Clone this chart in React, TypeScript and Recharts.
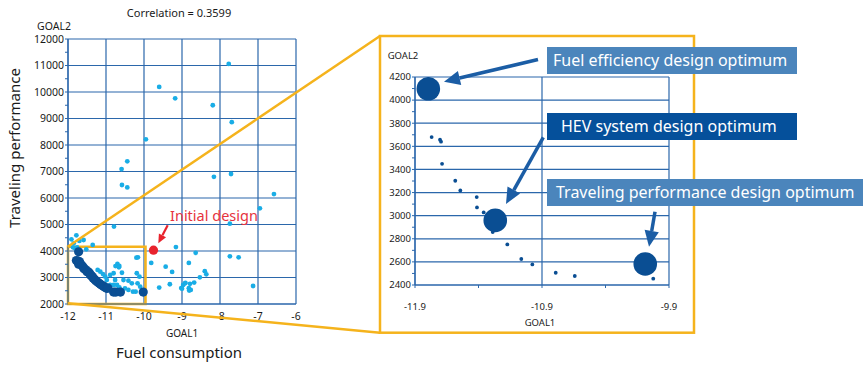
import React from "react";
import { ScatterChart, Scatter, XAxis, YAxis, CartesianGrid, ReferenceArea } from "recharts";

const FONT = '"Noto Sans", "Open Sans", sans-serif';
const GRID = "#2b67ab";
const ORANGE = "#f5b31c";
const LIGHT = "#19ade6";
const DARK = "#0a4e93";
const RED = "#e8232d";

// left: whole design space
const leftXTicks = [-12, -11, -10, -9, -8, -7, -6];
const leftYTicks = [2000, 2500, 3000, 3500, 4000, 4500, 5000, 5500, 6000, 6500, 7000, 7500, 8000, 8500, 9000, 9500, 10000, 10500, 11000, 11500, 12000];
const leftYGrid = [2000, 3000, 4000, 5000, 6000, 7000, 8000, 9000, 10000, 11000, 12000];

const samplePoints = [
  { x: -10.59, y: 7090 }, { x: -10.44, y: 7385 }, { x: -9.95, y: 8215 }, { x: -9.6, y: 10190 },
  { x: -9.18, y: 9760 }, { x: -8.19, y: 9500 }, { x: -7.77, y: 11060 }, { x: -7.69, y: 8860 },
  { x: -10.58, y: 6490 }, { x: -10.44, y: 6400 }, { x: -10.79, y: 4920 }, { x: -8.16, y: 6800 },
  { x: -7.71, y: 6905 }, { x: -6.58, y: 6150 }, { x: -6.95, y: 5610 }, { x: -7.74, y: 5030 },
  { x: -7.74, y: 3800 }, { x: -7.51, y: 3760 }, { x: -7.13, y: 2680 }, { x: -9.16, y: 4150 },
  { x: -8.64, y: 3930 }, { x: -8.82, y: 3550 }, { x: -9.43, y: 3410 }, { x: -9.26, y: 3210 },
  { x: -9.81, y: 3550 }, { x: -9.32, y: 2745 }, { x: -9.6, y: 2620 },
  { x: -9.02, y: 2600 }, { x: -8.97, y: 2720 }, { x: -8.91, y: 2800 }, { x: -8.82, y: 2595 },
  { x: -8.79, y: 2760 }, { x: -8.81, y: 2510 }, { x: -8.68, y: 2810 }, { x: -8.53, y: 3005 },
  { x: -8.4, y: 3240 }, { x: -8.36, y: 3120 }, { x: -8.77, y: 2530 }, { x: -8.92, y: 2780 }, { x: -9.0, y: 2580 },
  { x: -11.78, y: 4590 }, { x: -11.59, y: 4415 }, { x: -11.7, y: 4380 }, { x: -11.35, y: 4230 },
  { x: -11.91, y: 4440 }, { x: -11.85, y: 4290 }, { x: -11.87, y: 4140 }, { x: -11.82, y: 4100 },
  { x: -11.76, y: 4140 }, { x: -11.52, y: 4065 },
  { x: -10.16, y: 3760 }, { x: -10.7, y: 3510 }, { x: -10.65, y: 3435 }, { x: -10.58, y: 3180 },
  { x: -10.8, y: 3160 }, { x: -10.89, y: 3095 }, { x: -11.22, y: 3285 }, { x: -11.15, y: 3220 },
  { x: -11.08, y: 3130 }, { x: -10.19, y: 3160 }, { x: -10.12, y: 3030 },
  { x: -10.54, y: 2905 }, { x: -10.41, y: 2880 }, { x: -10.32, y: 2780 }, { x: -10.76, y: 2905 },
  { x: -10.71, y: 2720 }, { x: -10.65, y: 2630 }, { x: -10.8, y: 2720 }, { x: -10.5, y: 2590 },
  { x: -10.41, y: 2530 }, { x: -10.29, y: 2465 }, { x: -10.22, y: 2465 }, { x: -10.17, y: 2780 },
  { x: -10.1, y: 2655 }, { x: -11.02, y: 3030 }, { x: -10.98, y: 2905 }, { x: -10.89, y: 2720 },
  { x: -10.75, y: 3430 }, { x: -10.66, y: 3385 }, { x: -10.2, y: 3750 },
];

const paretoPoints = [
  { x: -11.72, y: 3970 }, { x: -11.78, y: 3640 }, { x: -11.74, y: 3620 }, { x: -11.7, y: 3600 },
  { x: -11.68, y: 3540 }, { x: -11.72, y: 3500 }, { x: -11.64, y: 3460 }, { x: -11.6, y: 3400 },
  { x: -11.58, y: 3330 }, { x: -11.53, y: 3290 }, { x: -11.5, y: 3220 }, { x: -11.45, y: 3200 },
  { x: -11.42, y: 3130 }, { x: -11.4, y: 3080 }, { x: -11.36, y: 3040 }, { x: -11.34, y: 2980 },
  { x: -11.3, y: 2930 }, { x: -11.27, y: 2880 }, { x: -11.22, y: 2830 }, { x: -11.18, y: 2780 },
  { x: -11.14, y: 2740 }, { x: -11.1, y: 2700 }, { x: -11.06, y: 2660 }, { x: -11.02, y: 2620 },
  { x: -10.98, y: 2590 }, { x: -10.95, y: 2600 }, { x: -10.8, y: 2450 }, { x: -10.74, y: 2450 },
  { x: -10.62, y: 2450 }, { x: -10.02, y: 2450 },
];

const initialDesign = [{ x: -9.75, y: 4030 }];
const zoomRange = { x1: -12, x2: -9.96, y1: 2000, y2: 4160 };

// right: zoom on the pareto front
const rightXTicks = [-11.9, -11.4, -10.9, -10.4, -9.9];
const rightXGrid = [-11.9, -10.9, -9.9];
const rightYTicks = [2400, 2500, 2600, 2700, 2800, 2900, 3000, 3100, 3200, 3300, 3400, 3500, 3600, 3700, 3800, 3900, 4000, 4100, 4200];
const rightYGrid = [2400, 2600, 2800, 3000, 3200, 3400, 3600, 3800, 4000, 4200];

const frontPoints = [
  { x: -11.769, y: 3680 }, { x: -11.703, y: 3657 }, { x: -11.695, y: 3640 }, { x: -11.687, y: 3449 },
  { x: -11.583, y: 3302 }, { x: -11.543, y: 3218 }, { x: -11.414, y: 3161 }, { x: -11.412, y: 3071 },
  { x: -11.359, y: 3028 }, { x: -11.288, y: 2858 }, { x: -11.173, y: 2751 }, { x: -11.063, y: 2625 },
  { x: -10.976, y: 2578 }, { x: -10.792, y: 2506 }, { x: -10.642, y: 2478 }, { x: -10.024, y: 2455 },
];
const optimumPoints = [
  { x: -11.795, y: 4098 }, { x: -11.268, y: 2959 }, { x: -10.087, y: 2582 },
];

const dot = (r: number, fill: string) => (p: any) => <circle cx={p.cx} cy={p.cy} r={r} fill={fill} />;

function Text({ x, y, size, children, color = "#1a1a1a", rotate = 0, anchor = "center" }: any) {
  return (
    <div
      style={{
        position: "absolute",
        left: x,
        top: y,
        transform: `translate(${anchor === "center" ? "-50%" : "0"}, -50%) rotate(${rotate}deg)`,
        fontSize: size,
        color,
        whiteSpace: "nowrap",
        lineHeight: 1,
      }}
    >
      {children}
    </div>
  );
}

function Arrow({ x1, y1, x2, y2, color, w, head }: any) {
  const a = Math.atan2(y2 - y1, x2 - x1);
  const bx = x2 - head * Math.cos(a);
  const by = y2 - head * Math.sin(a);
  const hw = head * 0.45;
  const px = -Math.sin(a) * hw;
  const py = Math.cos(a) * hw;
  return (
    <g>
      <line x1={x1} y1={y1} x2={bx} y2={by} stroke={color} strokeWidth={w} />
      <polygon points={`${x2},${y2} ${bx + px},${by + py} ${bx - px},${by - py}`} fill={color} />
    </g>
  );
}

function Tag({ x, y, w, bg, pad, children }: any) {
  return (
    <div
      style={{
        position: "absolute",
        left: x,
        top: y,
        width: w,
        height: 27,
        background: bg,
        color: "#fff",
        fontSize: 16,
        lineHeight: "27px",
        paddingLeft: pad,
        boxSizing: "border-box",
        whiteSpace: "nowrap",
      }}
    >
      {children}
    </div>
  );
}

const tickStyle = { fontSize: 10.5, fill: "#1a1a1a", fontFamily: FONT };
const smallTick = { fontSize: 9.5, fill: "#1a1a1a", fontFamily: FONT };

export default function App() {
  return (
    <div style={{ position: "absolute", left: 0, top: 0, width: 866, height: 365, background: "#fff", fontFamily: FONT, overflow: "hidden" }}>
      <div style={{ position: "absolute", left: 0, top: 0 }}>
        <ScatterChart width={310} height={365} margin={{ top: 39, right: 14, left: 0, bottom: 41 }}>
          <CartesianGrid stroke={GRID} strokeWidth={1.2} horizontalValues={leftYGrid} verticalValues={leftXTicks} />
          <XAxis
            type="number"
            dataKey="x"
            domain={[-12, -6]}
            ticks={leftXTicks}
            interval={0}
            height={20}
            tickLine={false}
            tickSize={0}
            tickMargin={9}
            axisLine={{ stroke: GRID, strokeWidth: 1.2 }}
            tick={tickStyle}
          />
          <YAxis
            type="number"
            dataKey="y"
            domain={[2000, 12000]}
            ticks={leftYTicks}
            interval={0}
            width={68}
            tickSize={3}
            tickMargin={1}
            tickLine={{ stroke: GRID }}
            axisLine={{ stroke: GRID, strokeWidth: 1.2 }}
            tick={tickStyle}
            tickFormatter={(v: number) => (v % 1000 === 0 ? String(v) : "")}
          />
          <Scatter data={samplePoints} shape={dot(2.4, LIGHT)} isAnimationActive={false} />
          <Scatter data={paretoPoints} shape={dot(4.6, DARK)} isAnimationActive={false} />
          <Scatter data={initialDesign} shape={dot(4.6, RED)} isAnimationActive={false} />
          <ReferenceArea
            x1={zoomRange.x1}
            x2={zoomRange.x2}
            y1={zoomRange.y1}
            y2={zoomRange.y2}
            fill="none"
            fillOpacity={0}
            stroke={ORANGE}
            strokeWidth={2.5}
            ifOverflow="visible"
          />
        </ScatterChart>
      </div>

      <div style={{ position: "absolute", left: 380, top: 36 }}>
        <ScatterChart width={314} height={297} margin={{ top: 41, right: 25, left: 0, bottom: 28 }}>
          <CartesianGrid stroke={GRID} strokeWidth={1.2} horizontalValues={rightYGrid} verticalValues={rightXGrid} />
          <XAxis
            type="number"
            dataKey="x"
            domain={[-11.9, -9.9]}
            allowDataOverflow
            ticks={rightXTicks}
            interval={0}
            height={20}
            tickSize={3}
            tickMargin={15}
            tickLine={{ stroke: GRID }}
            axisLine={{ stroke: GRID, strokeWidth: 1.2 }}
            tick={smallTick}
            tickFormatter={(v: number) => (rightXGrid.includes(v) ? v.toFixed(1) : "")}
          />
          <YAxis
            type="number"
            dataKey="y"
            domain={[2400, 4200]}
            allowDataOverflow
            ticks={rightYTicks}
            interval={0}
            width={35}
            tickSize={3}
            tickMargin={1}
            tickLine={{ stroke: GRID }}
            axisLine={{ stroke: GRID, strokeWidth: 1.2 }}
            tick={smallTick}
            tickFormatter={(v: number) => (v % 200 === 0 ? String(v) : "")}
          />
          <Scatter data={frontPoints} shape={dot(1.9, DARK)} isAnimationActive={false} />
          <Scatter data={optimumPoints} shape={dot(11.8, DARK)} isAnimationActive={false} />
        </ScatterChart>
      </div>

      <svg width={866} height={365} style={{ position: "absolute", left: 0, top: 0, pointerEvents: "none" }}>
        <line x1={67.7} y1={246.7} x2={380} y2={36} stroke={ORANGE} strokeWidth={2.5} />
        <line x1={67.7} y1={303.3} x2={380} y2={332.7} stroke={ORANGE} strokeWidth={2.5} />
        <rect x={380} y={36} width={314} height={296.7} fill="none" stroke={ORANGE} strokeWidth={2.5} />
        <Arrow x1={538} y1={59.5} x2={444} y2={81.7} color="#1b5da5" w={3.5} head={16} />
        <Arrow x1={543.3} y1={137.3} x2={506} y2={204} color="#1b5da5" w={3.5} head={16} />
        <Arrow x1={655} y1={211.7} x2={649} y2={246.7} color="#1b5da5" w={3.5} head={16} />
        <Arrow x1={167.7} y1={225.3} x2={158.3} y2={243.3} color={RED} w={2.2} head={9} />
      </svg>

      <Text x={179} y={12} size={11}>Correlation = 0.3599</Text>
      <Text x={54} y={26} size={10.5}>GOAL2</Text>
      <Text x={182} y={333} size={10}>GOAL1</Text>
      <Text x={179} y={352} size={15}>Fuel consumption</Text>
      <Text x={13.5} y={148} size={15} rotate={-90}>Traveling performance</Text>
      <Text x={170} y={215} size={14.5} color="#e6333d" anchor="left">Initial design</Text>
      <Text x={403} y={56} size={9.5}>GOAL2</Text>
      <Text x={540} y={323} size={9.5}>GOAL1</Text>

      <Tag x={547} y={47.3} w={250} bg="#4b85bc" pad={6}>Fuel efficiency design optimum</Tag>
      <Tag x={547} y={113.3} w={250} bg="#05509b" pad={14}>HEV system design optimum</Tag>
      <Tag x={547} y={179.3} w={316} bg="#4b85bc" pad={9}>Traveling performance design optimum</Tag>
    </div>
  );
}
